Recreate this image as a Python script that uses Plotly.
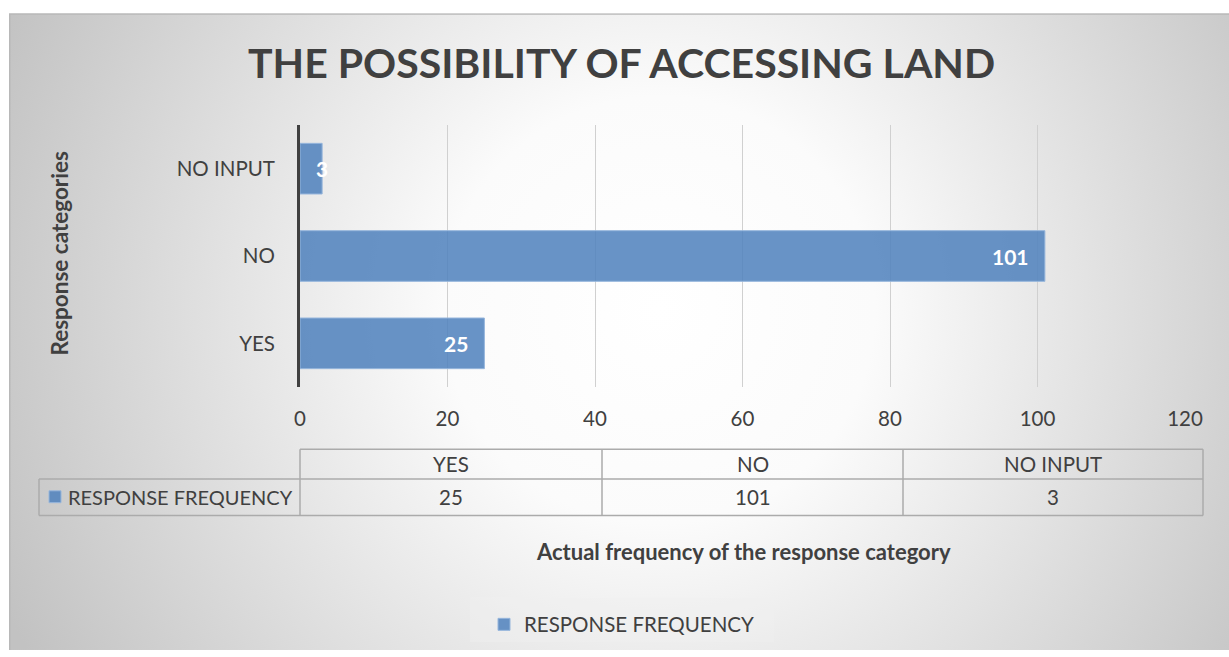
import base64
import plotly.graph_objects as go

# ---- data -------------------------------------------------------------
categories = ["YES", "NO", "NO INPUT"]
frequency = [25, 101, 3]
x_ticks = [0, 20, 40, 60, 80, 100, 120]
series_name = "RESPONSE FREQUENCY"
title_text = "THE POSSIBILITY OF ACCESSING LAND"
x_title = "Actual frequency of the response category"
y_title = "Response categories"

# ---- geometry helpers -------------------------------------------------
W, H = 1229, 657
L, R, T, B = 300, 44, 125, 267
PW = W - L - R
PH = H - T - B
X_MAX = 120


def px(x):
    return (x - L) / PW


def py(y):
    return (H - B - y) / PH


FONT = "Lato, 'Open Sans', sans-serif"
TEXT = "#404040"
BAR = "rgba(79,129,189,0.86)"
BAR_EDGE = "rgba(150,182,220,1)"
GRID = "#d0d0d0"
TABLE_LINE = "#ababab"
LABEL_SIZE = 20.5

# radial grey gradient behind the whole chart
svg = (
    '<svg xmlns="http://www.w3.org/2000/svg" width="1220" height="644" '
    'viewBox="0 0 1220 644" preserveAspectRatio="none">'
    '<defs><radialGradient id="g" cx="650" cy="300" r="720" '
    'gradientUnits="userSpaceOnUse">'
    '<stop offset="0" stop-color="#ffffff"/>'
    '<stop offset="0.3" stop-color="#fbfbfb"/>'
    '<stop offset="1" stop-color="#c2c2c2"/>'
    '</radialGradient></defs>'
    '<rect x="0" y="0" width="1220" height="644" fill="url(#g)"/>'
    '<path d="M0.75 644 L0.75 0.75 L1220 0.75" fill="none" stroke="#b8b8b8" stroke-width="1.5"/>'
    '</svg>'
)
bg_src = "data:image/svg+xml;base64," + base64.b64encode(svg.encode()).decode()

fig = go.Figure()
fig.add_trace(
    go.Bar(
        y=categories,
        x=frequency,
        orientation="h",
        width=0.58,
        name=series_name,
        marker=dict(color=BAR, line=dict(color=BAR_EDGE, width=1)),
        showlegend=True,
    )
)

annotations = []

# data labels, inside the bar end (centred when the bar is too short)
px_per_unit = PW / X_MAX
for cat, val in zip(categories, frequency):
    short = val * px_per_unit < 40
    annotations.append(
        dict(
            x=val, y=cat, xref="x", yref="y",
            text=str(val), showarrow=False,
            xanchor="center" if short else "right",
            xshift=0 if short else -14,
            font=dict(family=FONT, size=21, color="white", weight="bold"),
        )
    )

# title and axis titles
annotations.append(dict(
    x=px(621), y=py(62), xref="paper", yref="paper", text=title_text,
    showarrow=False, xanchor="center", yanchor="middle",
    font=dict(family=FONT, size=41, color=TEXT, weight="bold"),
))
annotations.append(dict(
    x=px(60), y=py(255), xref="paper", yref="paper", text=y_title,
    showarrow=False, textangle=-90, xanchor="center", yanchor="middle",
    font=dict(family=FONT, size=22.5, color=TEXT, weight="bold"),
))
annotations.append(dict(
    x=px(743), y=py(556), xref="paper", yref="paper", text=x_title,
    showarrow=False, xanchor="center", yanchor="middle",
    font=dict(family=FONT, size=22, color=TEXT, weight="bold"),
))

# data table under the axis
col_edges = [300, 602, 903, 1203]
row_top, row_mid, row_bot = 453, 483, 520
label_left = 39
shapes = []


def hline(x0, x1, y):
    shapes.append(dict(type="line", xref="paper", yref="paper",
                       x0=px(x0), x1=px(x1), y0=py(y), y1=py(y),
                       line=dict(color=TABLE_LINE, width=1.5)))


def vline(x, y0, y1):
    shapes.append(dict(type="line", xref="paper", yref="paper",
                       x0=px(x), x1=px(x), y0=py(y0), y1=py(y1),
                       line=dict(color=TABLE_LINE, width=1.5)))


hline(col_edges[0], col_edges[-1], row_top)
hline(label_left, col_edges[-1], row_mid)
hline(label_left, col_edges[-1], row_bot)
vline(label_left, row_mid, row_bot)
for cx in col_edges:
    vline(cx, row_top, row_bot)

for i, (cat, val) in enumerate(zip(categories, frequency)):
    cx = (col_edges[i] + col_edges[i + 1]) / 2
    annotations.append(dict(
        x=px(cx), y=py((row_top + row_mid) / 2), xref="paper", yref="paper",
        text=cat, showarrow=False, xanchor="center", yanchor="middle",
        font=dict(family=FONT, size=LABEL_SIZE, color=TEXT),
    ))
    annotations.append(dict(
        x=px(cx), y=py((row_mid + row_bot) / 2), xref="paper", yref="paper",
        text=str(val), showarrow=False, xanchor="center", yanchor="middle",
        font=dict(family=FONT, size=LABEL_SIZE, color=TEXT),
    ))

# series key in the table's label cell
shapes.append(dict(type="rect", xref="paper", yref="paper",
                   x0=px(49), x1=px(61), y0=py(495), y1=py(507),
                   fillcolor=BAR, line=dict(color=BAR_EDGE, width=1)))
annotations.append(dict(
    x=px(66), y=py((row_mid + row_bot) / 2), xref="paper", yref="paper",
    text=series_name, showarrow=False, xanchor="left", yanchor="middle",
    font=dict(family=FONT, size=20, color=TEXT),
))

# legend backdrop
shapes.append(dict(type="rect", xref="paper", yref="paper", layer="below",
                   x0=px(470), x1=px(774), y0=py(603), y1=py(648),
                   fillcolor="rgba(240,240,240,0.45)", line=dict(width=0)))

fig.update_layout(
    width=W, height=H,
    margin=dict(l=L, r=R, t=T, b=B, pad=0),
    paper_bgcolor="white",
    plot_bgcolor="rgba(0,0,0,0)",
    font=dict(family=FONT, color=TEXT),
    images=[dict(
        source=bg_src, xref="paper", yref="paper",
        x=px(9), y=py(12), sizex=(W - 9) / PW, sizey=(H - 13) / PH,
        xanchor="left", yanchor="top", sizing="stretch", layer="below",
    )],
    xaxis=dict(
        range=[0, X_MAX], tickvals=x_ticks, ticktext=[str(v) for v in x_ticks],
        showgrid=True, gridcolor=GRID, gridwidth=1, zeroline=False,
        showline=False, ticks="", ticklabelstandoff=17,
        tickfont=dict(family=FONT, size=LABEL_SIZE, color=TEXT),
        fixedrange=True,
    ),
    yaxis=dict(
        range=[-0.5, 2.5], showgrid=False, zeroline=False,
        showline=True, linecolor="#404040", linewidth=3,
        ticks="", ticklabelstandoff=18,
        tickfont=dict(family=FONT, size=LABEL_SIZE, color=TEXT),
        fixedrange=True,
    ),
    legend=dict(
        orientation="h", x=px(484), y=py(610), xanchor="left", yanchor="top",
        bgcolor="rgba(0,0,0,0)", font=dict(family=FONT, size=LABEL_SIZE, color=TEXT),
        itemwidth=30,
    ),
    annotations=annotations,
    shapes=shapes,
)

fig.write_html("out.html")
